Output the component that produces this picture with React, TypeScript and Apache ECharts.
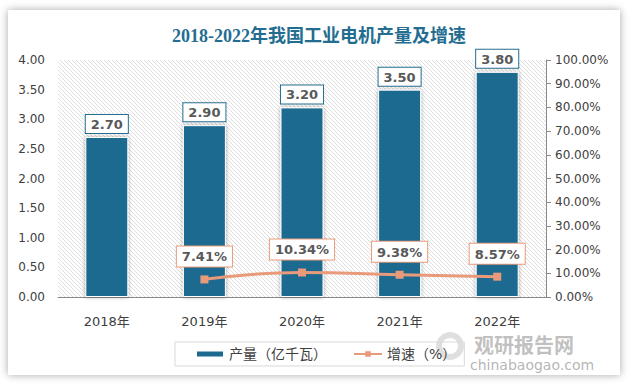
import React, { useEffect, useRef } from "react";
import * as echarts from "echarts";

const categories = ["2018年", "2019年", "2020年", "2021年", "2022年"];
const output = [2.7, 2.9, 3.2, 3.5, 3.8];
const growth: (number | null)[] = [null, 7.41, 10.34, 9.38, 8.57];
const leftTicks = { min: 0, max: 4, interval: 0.5 };
const rightTicks = { min: 0, max: 100, interval: 10 };
const titleText = "2018-2022年我国工业电机产量及增速";
const seriesNames = ["产量（亿千瓦）", "增速（%）"];

export default function App() {
  const ref = useRef<HTMLDivElement>(null);
  useEffect(() => {
    if (!ref.current) return;
    const chart = echarts.init(ref.current, null, { renderer: "svg" });
    const cv = document.createElement("canvas");
    cv.width = 4;
    cv.height = 4;
    const ctx = cv.getContext("2d")!;
    ctx.fillStyle = "#ffffff";
    ctx.fillRect(0, 0, 4, 4);
    ctx.strokeStyle = "#dedede";
    ctx.lineWidth = 1;
    ctx.beginPath();
    ctx.moveTo(-1, -1);
    ctx.lineTo(5, 5);
    ctx.stroke();
    const font = "'DejaVu Sans', 'Noto Sans CJK SC', sans-serif";
    chart.setOption({
      animation: false,
      backgroundColor: "transparent",
      title: {
        text: titleText,
        left: 314,
        textAlign: "center",
        top: 22,
        textStyle: {
          fontFamily: "'Liberation Serif', 'Noto Sans CJK SC', serif",
          fontSize: 18,
          fontWeight: "bold",
          color: "#236d90",
        },
      },
      grid: {
        left: 58,
        right: 85,
        top: 60,
        bottom: 93,
        show: true,
        borderWidth: 0,
        backgroundColor: { image: cv, repeat: "repeat" } as any,
      },
      legend: {
        left: 175,
        top: 342,
        padding: [5, 8, 5, 20],
        borderColor: "#d9d9d9",
        borderWidth: 1,
        itemWidth: 28,
        itemHeight: 7,
        itemGap: 26,
        textStyle: { fontSize: 14, color: "#404040", fontFamily: font },
        data: [
          { name: seriesNames[0], icon: "rect" },
          { name: seriesNames[1] },
        ],
      },
      xAxis: {
        type: "category",
        data: categories,
        axisLine: { lineStyle: { color: "#898989", width: 1 } },
        axisTick: { show: false },
        axisLabel: { fontSize: 13, color: "#404040", margin: 18, fontFamily: font },
      },
      yAxis: [
        {
          type: "value",
          ...leftTicks,
          axisLine: { show: false },
          axisTick: { show: false },
          splitLine: { show: false },
          axisLabel: {
            fontSize: 12,
            color: "#404040",
            margin: 13,
            fontFamily: font,
            formatter: (v: number) => v.toFixed(2),
          },
        },
        {
          type: "value",
          ...rightTicks,
          position: "right",
          axisLine: { show: true, lineStyle: { color: "#898989" } },
          axisTick: { show: true, length: 5, lineStyle: { color: "#898989" } },
          splitLine: { show: false },
          axisLabel: {
            fontSize: 12,
            color: "#404040",
            margin: 9,
            fontFamily: font,
            formatter: (v: number) => v.toFixed(2) + "%",
          },
        },
      ],
      series: [
        {
          name: seriesNames[0],
          type: "bar",
          data: output,
          barWidth: 43,
          itemStyle: {
            color: "#1c6b8f",
            borderColor: "#ffffff",
            borderWidth: 1,
            shadowBlur: 4,
            shadowColor: "rgba(0,0,0,0.35)",
          },
          label: {
            show: true,
            position: "top",
            distance: 4,
            formatter: (p: any) => p.value.toFixed(2),
            fontSize: 13,
            fontWeight: "bold",
            color: "#595959",
            fontFamily: font,
            backgroundColor: "#ffffff",
            borderColor: "#236d90",
            borderWidth: 1,
            padding: [3, 5, 2, 5],
          },
        },
        {
          name: seriesNames[1],
          type: "line",
          yAxisIndex: 1,
          data: growth,
          smooth: true,
          symbol: "rect",
          symbolSize: 8,
          lineStyle: { color: "#e99a7b", width: 3 },
          itemStyle: { color: "#e99a7b" },
          label: {
            show: true,
            position: "top",
            distance: 9,
            formatter: (p: any) => p.value.toFixed(2) + "%",
            fontSize: 13,
            fontWeight: "bold",
            color: "#595959",
            fontFamily: font,
            backgroundColor: "#ffffff",
            borderColor: "#e99a7b",
            borderWidth: 1,
            padding: [4, 5, 3, 5],
          },
        },
      ],
      graphic: [
        {
          type: "ring",
          shape: { cx: 450, cy: 346, r: 14, r0: 8 },
          style: { fill: "rgba(150,150,150,0.3)" },
          silent: true,
        },
        {
          type: "text",
          left: 474,
          top: 334,
          style: {
            text: "观研报告网",
            fontSize: 20,
            lineHeight: 20,
            fontWeight: "bold",
            fill: "rgba(130,130,130,0.5)",
            fontFamily: "'Noto Sans CJK SC', sans-serif",
          },
          silent: true,
        },
        {
          type: "text",
          left: 470,
          top: 358,
          style: {
            text: "chinabaogao.com",
            fontSize: 14,
            lineHeight: 14,
            fill: "rgba(130,130,130,0.6)",
            fontFamily: font,
          },
          silent: true,
        },
      ],
    });
    return () => chart.dispose();
  }, []);
  return (
    <div style={{ position: "absolute", left: 0, top: 0, width: 631, height: 390, background: "#ffffff", overflow: "hidden" }}>
      <div
        style={{
          position: "absolute",
          left: 8,
          top: 10,
          width: 612,
          height: 365,
          background: "#ffffff",
          boxShadow: "0 0 8px rgba(0,0,0,0.35)",
        }}
      />
      <div ref={ref} style={{ position: "absolute", left: 0, top: 0, width: 631, height: 390 }} />
    </div>
  );
}
